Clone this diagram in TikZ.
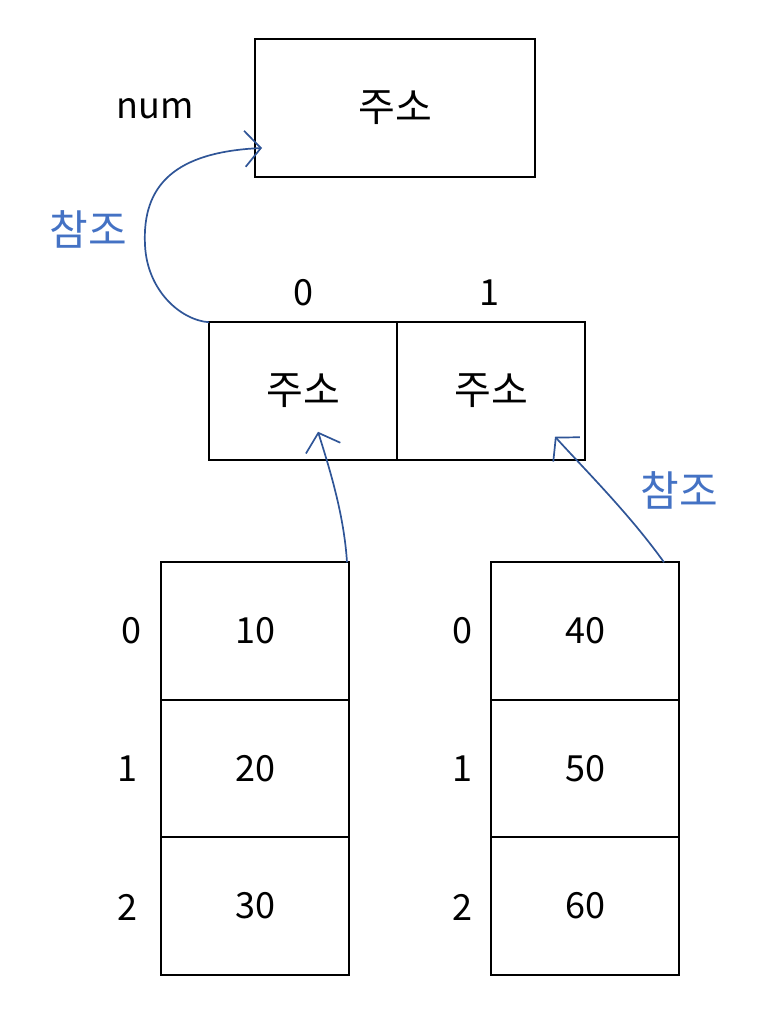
\documentclass[tikz,border=0pt]{standalone}
\usepackage{fontspec}
\setmainfont{Noto Sans CJK KR}
\usepackage{tikz}
\usetikzlibrary{arrows.meta,positioning,calc}
\definecolor{penblue}{HTML}{2F5597}
\definecolor{notered}{HTML}{4472C4}

\begin{document}
\begin{tikzpicture}[x=1pt,y=-1pt,node distance=0pt,>={Straight Barb[length=16pt,width=36pt]}]
\tikzstyle{cell}=[draw,line width=1.6pt,minimum width=188pt,minimum height=137.5pt,outer sep=0pt,inner sep=0pt,font=\fontsize{36}{40}\selectfont]
\tikzstyle{addr}=[font=\fontsize{40}{44}\selectfont]
\tikzstyle{idx}=[font=\fontsize{36}{40}\selectfont,inner sep=0pt]
\tikzstyle{note}=[text=notered,font=\fontsize{42}{46}\selectfont,inner sep=0pt]
\tikzstyle{pen}=[draw=penblue,line width=1.7pt,->]
\useasboundingbox (0,0) rectangle (772,1012);
% variable
\node[cell,addr,minimum width=280pt,minimum height=138pt] (numbox) at (395,108) {주소};
\node[idx] (numlbl) at (155,109) {num};
% array of references
\node[cell,addr] (arr0) at (303,391) {주소};
\node[cell,addr,right=of arr0] (arr1) {주소};
\node[idx] (top0) at (303,293) {0};
\node[idx] (top1) at (489,293) {1};
% first row
\node[cell] (a0) at (255,631) {10};
\node[cell,below=of a0] (a1) {20};
\node[cell,below=of a1] (a2) {30};
\node[idx] (ia0) at (131,631) {0};
\node[idx] (ia1) at (127,769) {1};
\node[idx] (ia2) at (127,907) {2};
% second row
\node[cell] (b0) at (585,631) {40};
\node[cell,below=of b0] (b1) {50};
\node[cell,below=of b1] (b2) {60};
\node[idx] (ib0) at (462,631) {0};
\node[idx] (ib1) at (462,769) {1};
\node[idx] (ib2) at (462,907) {2};
% references
\node[note] (ref1) at (88,229) {참조};
\node[note] (ref2) at (679,490) {참조};
\draw[pen] (arr0.north west) .. controls (180,320) and (147,290) .. (145,245)
  .. controls (142,185) and (175,152) .. ($(numbox.west)+(7,40)$);
\draw[pen] ($(a0.north east)+(-2,0)$) .. controls (344,515) and (330,470) .. ($(arr0.south)+(15,-28)$);
\draw[pen] ($(b0.north east)+(-15,0)$) .. controls (630,515) and (590,475) .. ($(arr1.south)+(64,-23)$);
\end{tikzpicture}
\end{document}
